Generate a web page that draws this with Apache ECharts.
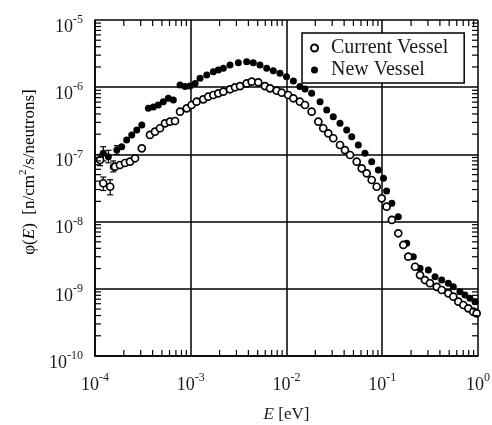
<!DOCTYPE html>
<html>
<head>
<meta charset="utf-8">
<script src="https://cdn.jsdelivr.net/npm/echarts@6/dist/echarts.min.js"></script>
<style>html,body{margin:0;padding:0;background:#fff;}#c{width:492px;height:425px;}</style>
</head>
<body>
<div id="c"></div>
<script>
// ---- Data (E in eV, phi in n/cm^2/s/neutrons) ----
const currentE = [1.13e-4,1.22e-4,1.44e-4,1.62e-4,1.82e-4,2.06e-4,2.32e-4,2.62e-4,3.08e-4,3.75e-4,4.23e-4,4.77e-4,5.38e-4,6.07e-4,6.85e-4,7.73e-4,9.08e-4,1.02e-3,1.15e-3,1.35e-3,1.52e-3,1.72e-3,1.94e-3,2.19e-3,2.57e-3,2.90e-3,3.27e-3,3.84e-3,4.33e-3,5.07e-3,5.96e-3,6.73e-3,7.90e-3,8.91e-3,1.04e-2,1.18e-2,1.38e-2,1.56e-2,1.83e-2,2.15e-2,2.42e-2,2.73e-2,3.08e-2,3.62e-2,4.08e-2,4.61e-2,5.41e-2,6.10e-2,6.88e-2,7.76e-2,8.75e-2,9.87e-2,0.111,0.126,0.147,0.166,0.187,0.220,0.248,0.279,0.315,0.371,0.418,0.490,0.552,0.623,0.703,0.792,0.893,0.968];
const currentPhi = [8.26e-8,3.72e-8,3.30e-8,6.56e-8,6.95e-8,7.45e-8,7.79e-8,8.75e-8,1.23e-7,1.95e-7,2.18e-7,2.45e-7,2.90e-7,3.07e-7,3.14e-7,4.32e-7,4.85e-7,5.43e-7,6.08e-7,6.60e-7,7.22e-7,7.66e-7,8.11e-7,8.57e-7,9.31e-7,9.97e-7,1.04e-6,1.14e-6,1.21e-6,1.18e-6,1.04e-6,9.63e-7,8.87e-7,8.28e-7,7.66e-7,6.84e-7,6.08e-7,5.43e-7,4.32e-7,3.07e-7,2.45e-7,2.06e-7,1.74e-7,1.38e-7,1.16e-7,9.79e-8,7.79e-8,6.21e-8,5.23e-8,4.16e-8,3.30e-8,2.22e-8,1.67e-8,1.06e-8,6.70e-9,4.49e-9,3.01e-9,2.13e-9,1.60e-9,1.35e-9,1.21e-9,1.07e-9,9.59e-10,8.57e-10,7.63e-10,6.43e-10,5.74e-10,5.12e-10,4.56e-10,4.31e-10];
const newE = [1.22e-4,1.38e-4,1.55e-4,1.69e-4,1.90e-4,2.14e-4,2.42e-4,2.73e-4,3.08e-4,3.61e-4,4.07e-4,4.58e-4,5.17e-4,5.83e-4,6.58e-4,7.73e-4,8.71e-4,9.82e-4,1.11e-3,1.25e-3,1.47e-3,1.72e-3,1.94e-3,2.19e-3,2.57e-3,3.14e-3,3.84e-3,4.50e-3,5.28e-3,6.21e-3,7.28e-3,8.55e-3,1.00e-2,1.18e-2,1.38e-2,1.56e-2,1.83e-2,2.24e-2,2.63e-2,3.08e-2,3.62e-2,4.25e-2,4.80e-2,5.62e-2,6.60e-2,7.76e-2,9.10e-2,0.103,0.111,0.126,0.147,0.180,0.211,0.248,0.303,0.356,0.418,0.490,0.552,0.648,0.731,0.824,0.931];
const newPhi = [1.04e-7,9.24e-8,6.56e-8,1.16e-7,1.30e-7,1.64e-7,1.95e-7,2.31e-7,2.74e-7,4.85e-7,5.07e-7,5.43e-7,6.08e-7,6.84e-7,6.45e-7,1.08e-6,1.02e-6,1.04e-6,1.14e-6,1.36e-6,1.52e-6,1.70e-6,1.80e-6,1.91e-6,2.14e-6,2.32e-6,2.40e-6,2.32e-6,2.14e-6,1.91e-6,1.76e-6,1.61e-6,1.43e-6,1.24e-6,1.02e-6,9.39e-7,8.11e-7,6.08e-7,4.58e-7,3.64e-7,2.90e-7,2.31e-7,1.83e-7,1.38e-7,1.04e-7,7.79e-8,5.86e-8,4.41e-8,2.85e-8,1.87e-8,1.18e-8,4.75e-9,3.01e-9,2.02e-9,1.91e-9,1.51e-9,1.35e-9,1.21e-9,1.07e-9,9.06e-10,8.09e-10,7.22e-10,6.43e-10];
// error bars (low-energy points)
const currentErrE = [1.13e-4,1.22e-4,1.44e-4];
const currentErrLow = [6.8e-8,2.9e-8,2.5e-8];
const currentErrHigh = [1.0e-7,4.6e-8,4.2e-8];
const newErrE = [1.22e-4,1.38e-4,1.55e-4,1.69e-4];
const newErrLow = [8.0e-8,7.5e-8,5.5e-8,1.0e-7];
const newErrHigh = [1.3e-7,1.15e-7,8.0e-8,1.35e-7];
// axis decades (exponents)
const xDecades = [-4,-3,-2,-1,0];
const yDecades = [-10,-9,-8,-7,-6,-5];
const minorMults = [2,3,4,5,6,7,8,9];
const seriesNames = ['Current Vessel','New Vessel'];

const FONT = '"Liberation Serif", "DejaVu Serif", serif';
const TXT = '#1a1a1a';
const chart = echarts.init(document.getElementById('c'), null, {renderer:'canvas'});

function zip(a,b){ return a.map((v,i)=>[v,b[i]]); }
function zip3(a,b,c){ return a.map((v,i)=>[v,b[i],c[i]]); }
function expLabel(v){
  const e = Math.round(Math.log10(v));
  return '{b|10}{s|' + e + '}';
}
const richLabel = {
  b:{fontFamily:FONT,fontSize:18,color:TXT,lineHeight:22,verticalAlign:'bottom'},
  s:{fontFamily:FONT,fontSize:12,color:TXT,lineHeight:22,verticalAlign:'top'}
};

function errRender(params, api){
  const x = api.value(0);
  const p1 = api.coord([x, api.value(1)]);
  const p2 = api.coord([x, api.value(2)]);
  const st = {stroke:'#000', lineWidth:1.2};
  return {type:'group', children:[
    {type:'line', shape:{x1:p1[0],y1:p1[1],x2:p2[0],y2:p2[1]}, style:st},
    {type:'line', shape:{x1:p1[0]-3,y1:p1[1],x2:p1[0]+3,y2:p1[1]}, style:st},
    {type:'line', shape:{x1:p2[0]-3,y1:p2[1],x2:p2[0]+3,y2:p2[1]}, style:st}
  ]};
}

const axisLineStyle = {color:'#000', width:1.5};
chart.setOption({
  animation:false,
  backgroundColor:'#fff',
  grid:{left:95, top:20, right:14, bottom:69, containLabel:false, outerBoundsMode:'none'},
  legend:{
    data:seriesNames, orient:'vertical', left:302, top:33,
    padding:[4,16,2,8], itemGap:0, itemWidth:23, itemHeight:7,
    backgroundColor:'#fff', borderColor:'#000', borderWidth:1.5, borderRadius:0,
    textStyle:{fontFamily:FONT, fontSize:20, color:TXT, lineHeight:22},
    z:10
  },
  xAxis:{
    type:'log', logBase:10, min:Math.pow(10,xDecades[0]), max:Math.pow(10,xDecades[xDecades.length-1]),
    axisLine:{lineStyle:axisLineStyle}, axisTick:{show:false},
    splitLine:{show:true, lineStyle:{color:'#000', width:1.5}},
    axisLabel:{formatter:expLabel, rich:richLabel, margin:16},
    name:'{i|E} [eV]', nameLocation:'middle', nameGap:50,
    nameTextStyle:{fontFamily:FONT, fontSize:17, color:TXT, rich:{i:{fontFamily:FONT,fontSize:17,fontStyle:'italic',color:TXT}}}
  },
  yAxis:{
    type:'log', logBase:10, min:Math.pow(10,yDecades[0]), max:Math.pow(10,yDecades[yDecades.length-1]),
    axisLine:{lineStyle:axisLineStyle}, axisTick:{show:false},
    splitLine:{show:true, lineStyle:{color:'#000', width:1.5}},
    axisLabel:{formatter:expLabel, rich:richLabel, margin:12, padding:[10,0,0,0]}
  },
  series:[
    {type:'custom', name:'errNew', renderItem:errRender, data:zip3(newErrE,newErrLow,newErrHigh), encode:{x:0,y:[1,2]}, silent:true, z:2},
    {type:'custom', name:'errCur', renderItem:errRender, data:zip3(currentErrE,currentErrLow,currentErrHigh), encode:{x:0,y:[1,2]}, silent:true, z:2},
    {type:'scatter', name:'New Vessel', data:zip(newE,newPhi), symbol:'circle', symbolSize:7,
      itemStyle:{color:'#000', opacity:1}, z:3},
    {type:'scatter', name:'Current Vessel', data:zip(currentE,currentPhi), symbol:'circle', symbolSize:7,
      itemStyle:{color:'#fff', borderColor:'#000', borderWidth:1.7, opacity:1}, z:4}
  ]
});

// minor log ticks (inward, on all four sides) positioned through the axes' own scales
(function(){
  const xmin = Math.pow(10, xDecades[0]), xmax = Math.pow(10, xDecades[xDecades.length-1]);
  const ymin = Math.pow(10, yDecades[0]), ymax = Math.pow(10, yDecades[yDecades.length-1]);
  const L = 6, els = [];
  const st = {stroke:'#000', lineWidth:1.2};
  const px = (p)=>chart.convertToPixel({xAxisIndex:0, yAxisIndex:0}, p);
  for (let i=0;i<xDecades.length-1;i++){
    for (const m of minorMults){
      const v = m*Math.pow(10,xDecades[i]);
      const pb = px([v, ymin]), pt = px([v, ymax]);
      els.push({type:'line', z:5, shape:{x1:pb[0],y1:pb[1],x2:pb[0],y2:pb[1]-L}, style:st});
      els.push({type:'line', z:5, shape:{x1:pt[0],y1:pt[1],x2:pt[0],y2:pt[1]+L}, style:st});
    }
  }
  for (let i=0;i<yDecades.length-1;i++){
    for (const m of minorMults){
      const v = m*Math.pow(10,yDecades[i]);
      const pl = px([xmin, v]), pr = px([xmax, v]);
      els.push({type:'line', z:5, shape:{x1:pl[0],y1:pl[1],x2:pl[0]+L,y2:pl[1]}, style:st});
      els.push({type:'line', z:5, shape:{x1:pr[0],y1:pr[1],x2:pr[0]-L,y2:pr[1]}, style:st});
    }
  }
  els.push({
    type:'text', x:28, y:172, rotation:Math.PI/2, z:5,
    style:{
      text:'{n|φ(}{i|E}{n|)  [n/cm}{s|2}{n|/s/neutrons]}',
      align:'center', verticalAlign:'middle',
      rich:{
        n:{fontFamily:FONT,fontSize:17,color:TXT,lineHeight:20,verticalAlign:'bottom'},
        i:{fontFamily:FONT,fontSize:17,fontStyle:'italic',color:TXT,lineHeight:20,verticalAlign:'bottom'},
        s:{fontFamily:FONT,fontSize:11,color:TXT,lineHeight:20,verticalAlign:'top'}
      }
    }
  });
  chart.setOption({graphic:els});
})();
</script>
</body>
</html>
